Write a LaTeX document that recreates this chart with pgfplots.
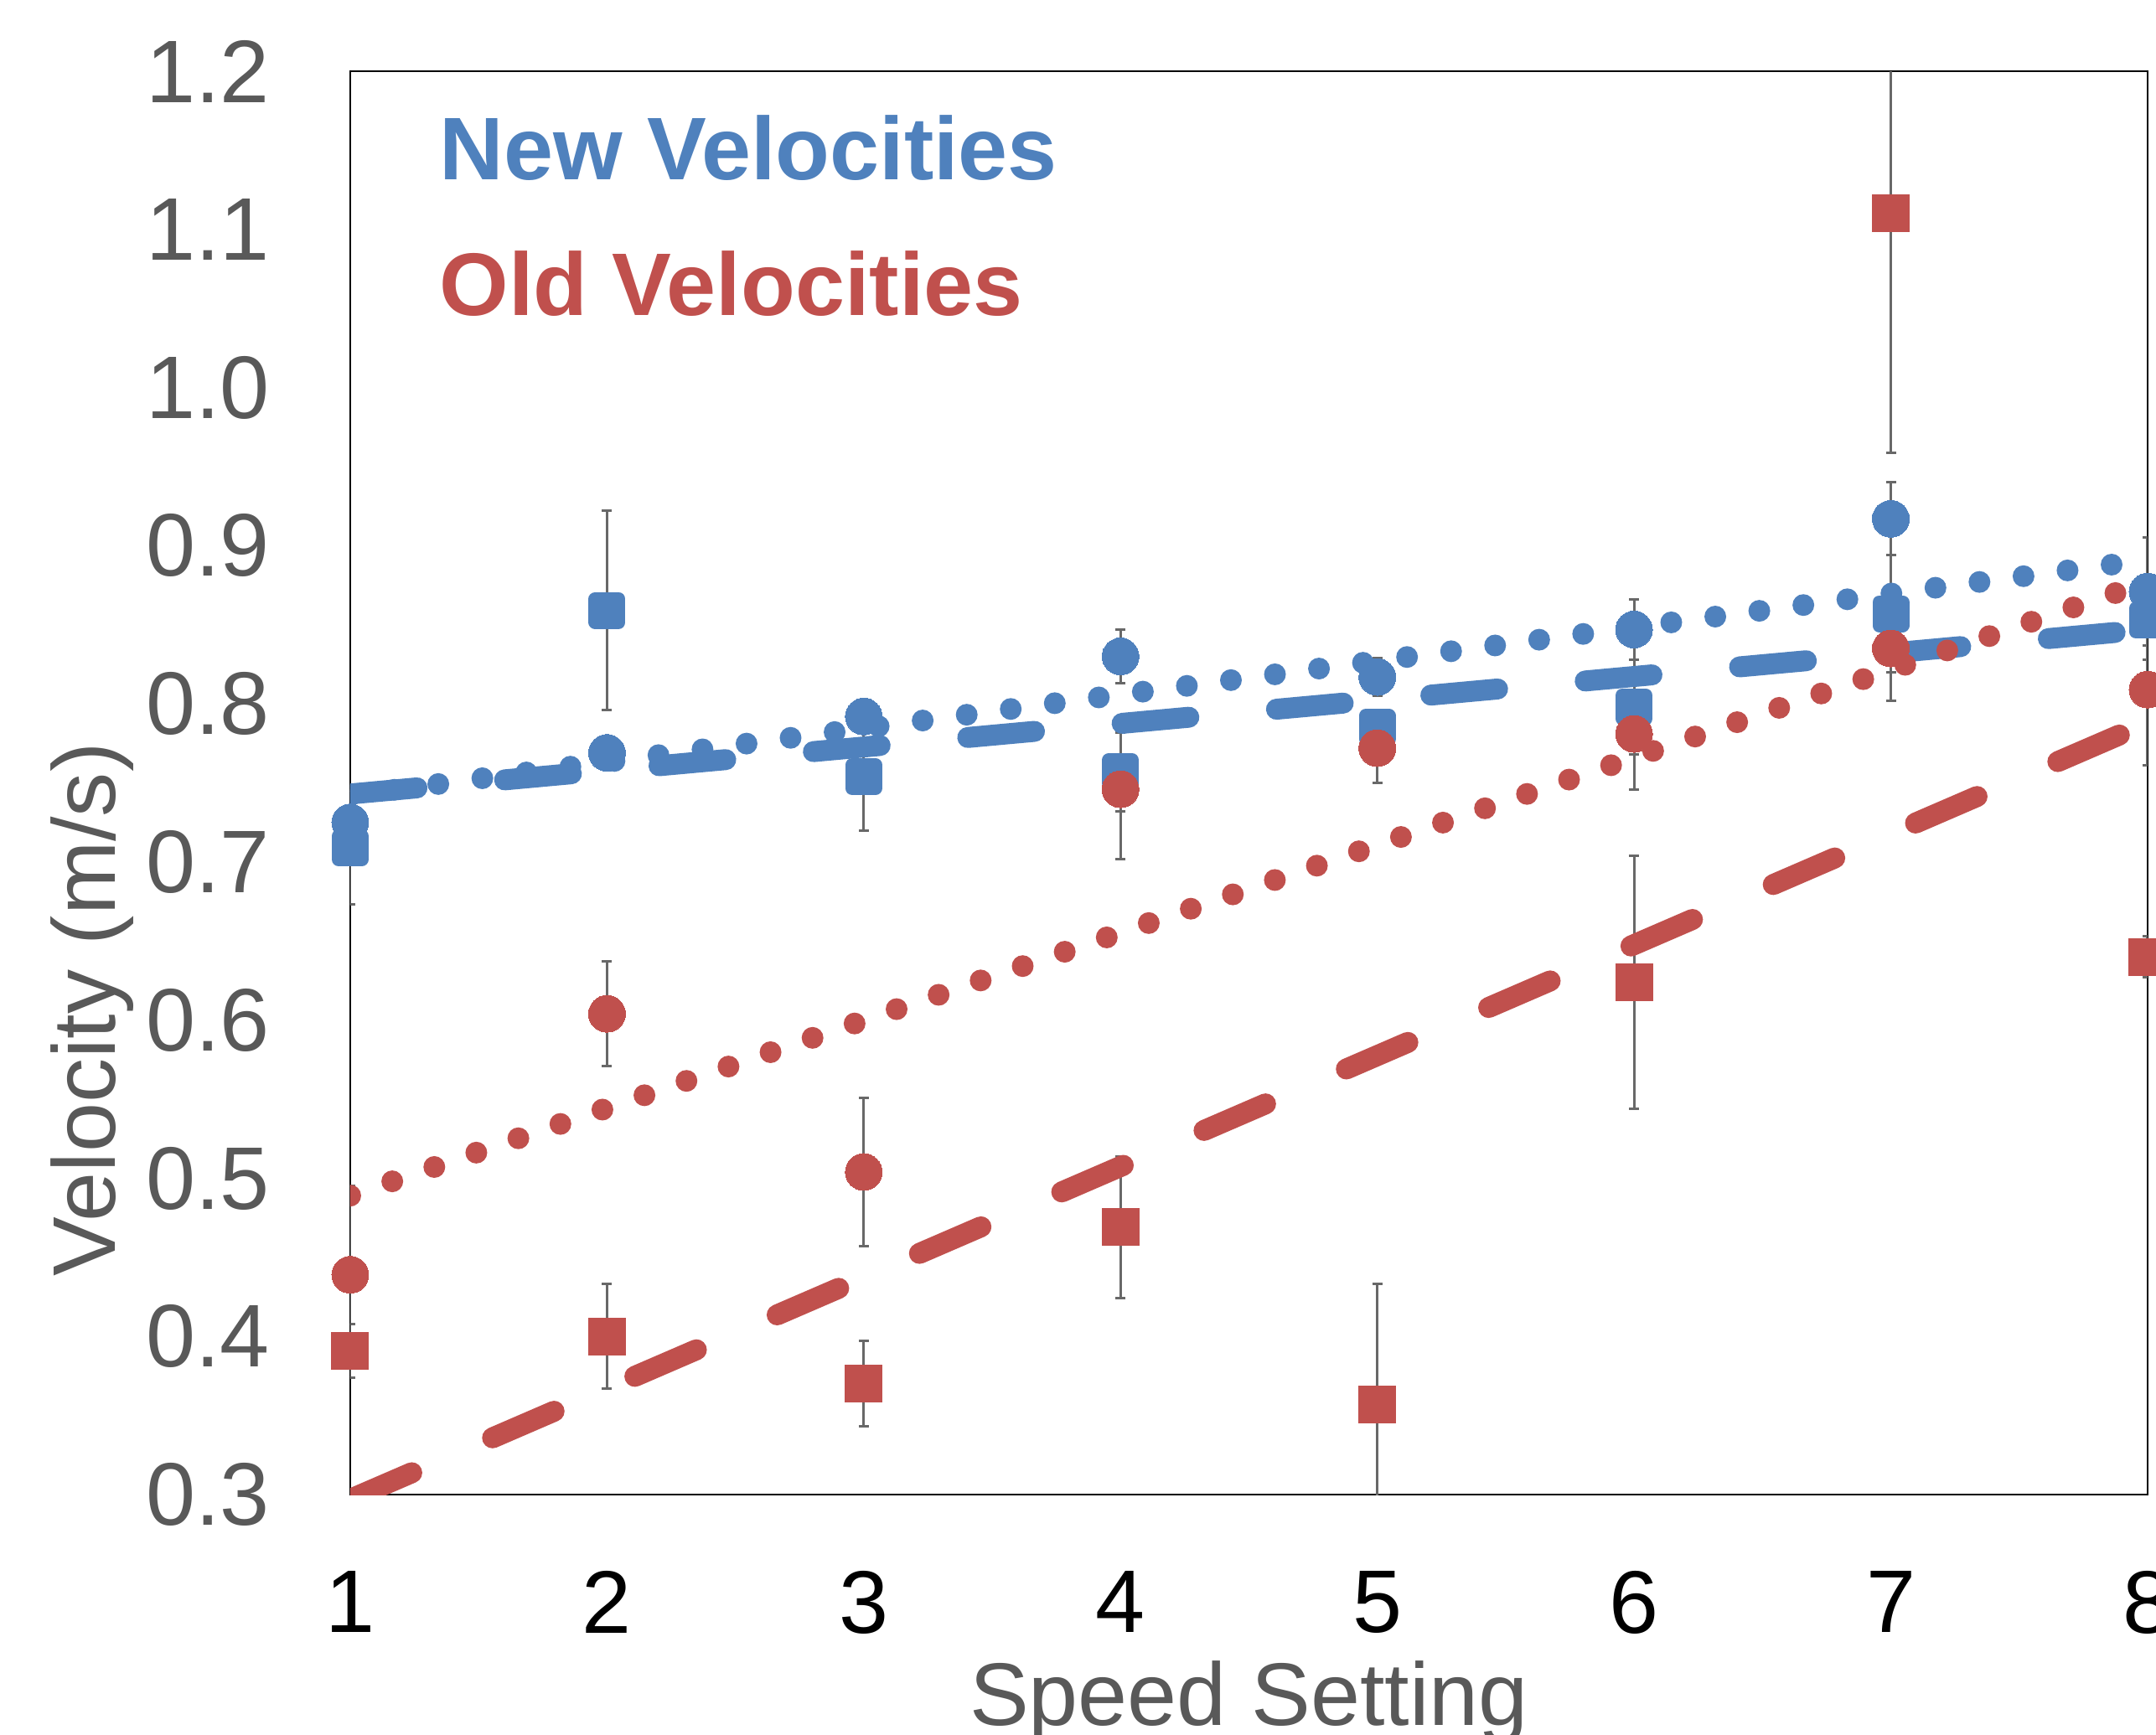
\documentclass[border=0pt]{standalone}
\usepackage{fontspec}
\setmainfont{Liberation Sans}
\usepackage{pgfplots}
\pgfplotsset{compat=1.18}

\definecolor{newblue}{HTML}{4F81BD}
\definecolor{oldred}{HTML}{C0504D}
\definecolor{txtgray}{HTML}{595959}
\definecolor{errgray}{HTML}{686868}
\newcommand\lab{\fontsize{15.1}{18}\selectfont}

\pgfplotsset{
  errs/.style={error bars/.cd, y dir=both, y explicit,
    error bar style={draw=errgray, line width=0.015cm},
    error mark options={rotate=90, draw=errgray, line width=0.015cm, mark size=0.03cm}},
}

\begin{document}
\begin{tikzpicture}
\useasboundingbox (-2.09cm,-1.43cm) rectangle (10.775cm,8.92cm);
\clip (-2.09cm,-1.43cm) rectangle (10.775cm,8.92cm);
\begin{axis}[
    at={(0,0)}, anchor=south west,
    scale only axis,
    width=10.725cm, height=8.495cm,
    xmin=1, xmax=8,
    ymin=0.3, ymax=1.2,
    xtick={1,2,3,4,5,6,7,8},
    ytick={0.3,0.4,0.5,0.6,0.7,0.8,0.9,1.0,1.1,1.2},
    major tick length=0pt,
    axis line style={black, line width=0.4pt},
    /pgf/number format/assume math mode=true,
    yticklabel style={font=\lab, text=txtgray, inner sep=0pt, xshift=-0.475cm,
      /pgf/number format/fixed, /pgf/number format/fixed zerofill,
      /pgf/number format/precision=1},
    xticklabel style={font=\lab, text=black, inner sep=0pt, yshift=-0.45cm},
    xlabel={Speed Setting},
    xlabel style={at={(axis description cs:0.5,-0.1624)}, anchor=base,
      font=\lab, text=txtgray},
    ylabel={Velocity (m/s)},
    ylabel style={at={(axis description cs:-0.131,0.3408)}, anchor=base,
      font=\lab, text=txtgray},
  ]

  % new velocities, circles
  \addplot[newblue, only marks, mark=*, mark size=0.11cm,
    mark options={fill=newblue, draw=newblue, line width=0pt}, errs] coordinates {
    (1,0.725) +- (0,0.008)
    (2,0.769) +- (0,0.008)
    (3,0.792) +- (0,0.008)
    (4,0.830) +- (0,0.017)
    (5,0.817) +- (0,0.012)
    (6,0.847) +- (0,0.019)
    (7,0.917) +- (0,0.023)
    (8,0.871) +- (0,0.034)
  };

  % new velocities, squares
  \addplot[newblue, only marks, mark=square*, mark size=0.07cm,
    mark options={fill=newblue, draw=newblue, line width=0.08cm, line join=round},
    errs] coordinates {
    (1,0.709) +- (0,0.036)
    (2,0.859) +- (0,0.063)
    (3,0.754) +- (0,0.034)
    (4,0.757) +- (0,0.025)
    (5,0.785) +- (0,0.010)
    (6,0.798) +- (0,0.030)
    (7,0.857) +- (0,0.037)
    (8,0.853) +- (0,0.025)
  };

  % old velocities, circles
  \addplot[oldred, only marks, mark=*, mark size=0.11cm,
    mark options={fill=oldred, draw=oldred, line width=0pt}, errs] coordinates {
    (1,0.439) +- (0,0.056)
    (2,0.604) +- (0,0.033)
    (3,0.504) +- (0,0.047)
    (4,0.746) +- (0,0.044)
    (5,0.772) +- (0,0.022)
    (6,0.781) +- (0,0.035)
    (7,0.835) +- (0,0.033)
    (8,0.809) +- (0,0.048)
  };

  % old velocities, squares
  \addplot[oldred, only marks, mark=square*, mark size=0.11cm,
    mark options={fill=oldred, draw=oldred, line width=0pt}, errs] coordinates {
    (1,0.391) +- (0,0.017)
    (2,0.400) +- (0,0.033)
    (3,0.370) +- (0,0.027)
    (4,0.469) +- (0,0.045)
    (5,0.357) +- (0,0.076)
    (6,0.624) +- (0,0.080)
    (7,1.110) +- (0,0.151)
    (8,0.640) +- (0,0.013)
  };

  % linear trendlines
  \addplot[newblue, line width=0.13cm, line cap=round,
    dash pattern=on 0pt off 0.265cm] coordinates {(1,0.742) (8,0.891)};
  \addplot[newblue, line width=0.125cm, line cap=round,
    dash pattern=on 0.4cm off 0.525cm] coordinates {(1,0.743) (8,0.847)};
  \addplot[oldred, line width=0.13cm, line cap=round,
    dash pattern=on 0pt off 0.265cm] coordinates {(1,0.489) (8,0.877)};
  \addplot[oldred, line width=0.125cm, line cap=round,
    dash pattern=on 0.4cm off 0.525cm] coordinates {(1,0.297) (8,0.788)};

  \node[anchor=base west, inner sep=0pt, font=\lab\bfseries, text=newblue]
    at (axis description cs:0.049,0.9241) {New Velocities};
  \node[anchor=base west, inner sep=0pt, font=\lab\bfseries, text=oldred]
    at (axis description cs:0.049,0.8287) {Old Velocities};
\end{axis}
\end{tikzpicture}
\end{document}
